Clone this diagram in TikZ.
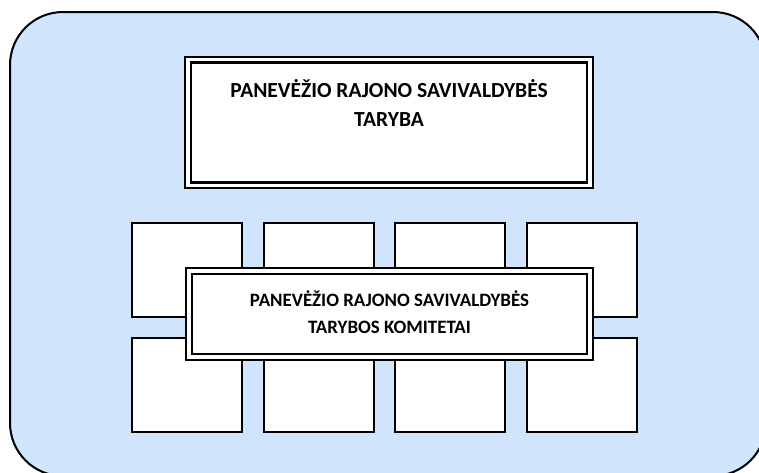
\documentclass[tikz,border=0pt]{standalone}
\usepackage{fontspec}
\setmainfont{Carlito}
\definecolor{panelblue}{RGB}{208,228,252}
\tikzset{
  frameline/.style={draw=black, line width=1.4pt, fill=white, inner sep=0pt},
  innerline/.style={draw=black, line width=2.8pt, inner sep=0pt},
  cellbox/.style={draw=black, line width=2pt, fill=white, minimum width=110pt, minimum height=94pt, inner sep=0pt},
  titletext/.style={font=\bfseries\fontsize{21.5}{29}\selectfont, align=center},
  subtext/.style={font=\bfseries\fontsize{18.9}{27}\selectfont, align=center},
}

\begin{document}
\begin{tikzpicture}[x=1pt, y=-1pt]
    \clip (0,0) rectangle (759,472);

    % background panel
    \draw[fill=panelblue, line width=2pt, rounded corners=53pt] (10,12) rectangle (766,476);

    % council
    \node[frameline, minimum width=408pt, minimum height=131pt] (tarybaframe) at (389,122.5) {};
    \node[innerline, minimum width=396pt, minimum height=120pt] (taryba) at (tarybaframe) {};
    \node[titletext] (tarybatxt) at (389,103) {PANEVĖŽIO RAJONO SAVIVALDYBĖS\\TARYBA};

    % committee cells
    \foreach \i in {0,...,3} {
        \node[cellbox] (top\i) at ({187+131.7*\i},270) {};
        \node[cellbox] (bot\i) at ({187+131.7*\i},385) {};
    }

    % committees
    \node[frameline, minimum width=407pt, minimum height=92pt] (komitetaiframe) at (389.5,314) {};
    \node[innerline, minimum width=395pt, minimum height=80pt] (komitetai) at (komitetaiframe) {};
    \node[subtext] (komitetaitxt) at (389.5,312) {PANEVĖŽIO RAJONO SAVIVALDYBĖS\\TARYBOS KOMITETAI};
\end{tikzpicture}
\end{document}
